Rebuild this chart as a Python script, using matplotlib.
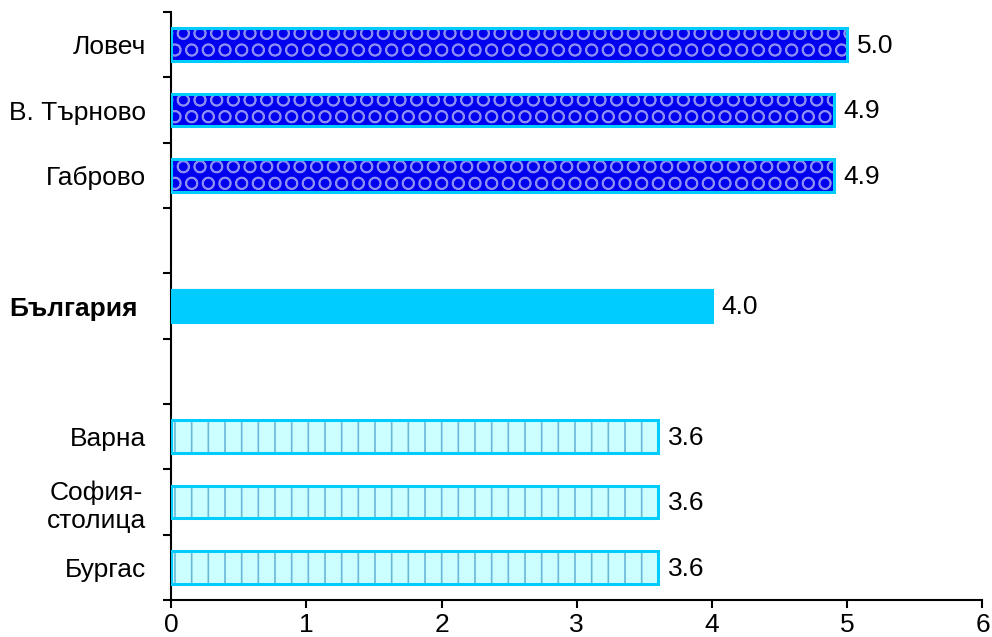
import numpy as np
from matplotlib import pyplot as plt

plt.rcParams['font.family'] = ['Liberation Sans', 'DejaVu Sans']

# slots from top to bottom, empty strings are gaps
labels = ['Ловеч', 'В. Търново', 'Габрово', '', 'България', '',
          'Варна', 'София-\nстолица', 'Бургас']
values = [5.0, 4.9, 4.9, None, 4.0, None, 3.6, 3.6, 3.6]
groups = ['high', 'high', 'high', None, 'country', None, 'low', 'low', 'low']

styles = {
    'high': dict(face='#0000ee', hatch='O', hcol='#8c8cf5'),
    'country': dict(face='#00ccff', hatch=None, hcol='#0099cc'),
    'low': dict(face='#ccffff', hatch='|', hcol='#6ab8d8'),
}

fig = plt.figure(figsize=(9.92, 6.37), dpi=100)
ax = fig.add_axes([0.1724, 0.058, 0.818, 0.923])

n = len(labels)
pos = np.arange(n)

plt.rcParams['hatch.linewidth'] = 1.2
for p, v, g in zip(pos, values, groups):
    if v is None:
        continue
    st = styles[g]
    ax.barh(p, v, height=0.5, color=st['face'], hatch=st['hatch'],
            edgecolor=st['hcol'], linewidth=0 if st['hatch'] else 1.5, zorder=2)
    ax.barh(p, v, height=0.5, fill=False, edgecolor='#00ccff',
            linewidth=2.2, zorder=3)
    ax.annotate('{:.1f}'.format(v), (v, p), xytext=(7, -1),
                textcoords='offset points', va='center', ha='left',
                fontsize=19, color='black')

ax.set_xlim(0, 6)
ax.set_ylim(n - 0.5, -0.5)
ax.set_xticks(range(7))
ax.tick_params(axis='x', labelsize=19, length=6, width=1.5, direction='out')

# major ticks at the slot borders, labels on minor ticks
ax.set_yticks(np.arange(-0.5, n, 1.0))
ax.set_yticklabels([])
ax.tick_params(axis='y', which='major', length=6, width=1.5, direction='out')
ax.set_yticks(pos, minor=True)
ax.set_yticklabels(labels, minor=True, fontsize=19)
ax.tick_params(axis='y', which='minor', length=0, pad=18)
for lab in ax.get_yticklabels(minor=True):
    lab.set_multialignment('center')
    if lab.get_text() == 'България':
        lab.set_fontweight('bold')
        lab.set_x(-0.01)

for s in ['top', 'right']:
    ax.spines[s].set_visible(False)
for s in ['left', 'bottom']:
    ax.spines[s].set_linewidth(1.5)

fig.savefig('out.png', dpi=100)
